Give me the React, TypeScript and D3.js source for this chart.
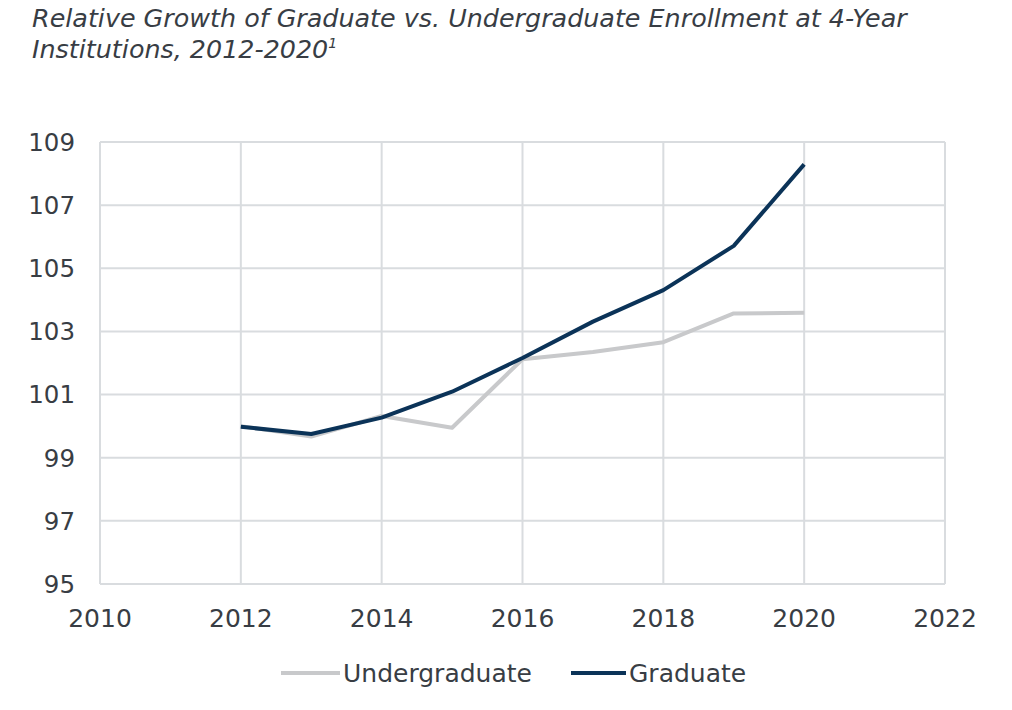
import * as d3 from 'd3'

const years = [2012, 2013, 2014, 2015, 2016, 2017, 2018, 2019, 2020]
const undergraduate = [100.0, 99.67, 100.32, 99.95, 102.12, 102.35, 102.66, 103.57, 103.59]
const graduate = [99.98, 99.75, 100.27, 101.09, 102.16, 103.31, 104.31, 105.71, 108.29]
const xTicks = [2010, 2012, 2014, 2016, 2018, 2020, 2022]
const yTicks = [95, 97, 99, 101, 103, 105, 107, 109]

const W = 1012
const H = 710
const textColor = '#383d44'
const gridColor = '#d9dcdf'
const font = 'Verdana, "DejaVu Sans", sans-serif'

export default function App() {
  const x = d3.scaleLinear().domain([2010, 2022]).range([100, 945])
  const y = d3.scaleLinear().domain([95, 109]).range([584, 142])

  const line = d3
    .line<number>()
    .x((_, i) => x(years[i]))
    .y(d => y(d))

  const series = [
    { name: 'Undergraduate', values: undergraduate, color: '#c8c9cb' },
    { name: 'Graduate', values: graduate, color: '#0b3358' },
  ]

  return (
    <svg
      width={W}
      height={H}
      style={{ position: 'absolute', left: 0, top: 0, background: '#fff' }}
      fontFamily={font}
    >
      <rect width={W} height={H} fill="#fff" />
      {/* 제목 */}
      <text x={32} y={27} fontSize={25.4} fontStyle="italic" fill={textColor}>
        Relative Growth of Graduate vs. Undergraduate Enrollment at 4-Year
      </text>
      <text x={32} y={58} fontSize={25.4} fontStyle="italic" fill={textColor}>
        Institutions, 2012-2020
        <tspan fontSize={14} dy={-10}>1</tspan>
      </text>

      {/* 격자 */}
      {yTicks.map(t => (
        <line key={'gy' + t} x1={x(2010)} x2={x(2022)} y1={y(t)} y2={y(t)} stroke={gridColor} strokeWidth={2} />
      ))}
      {xTicks.map(t => (
        <line key={'gx' + t} x1={x(t)} x2={x(t)} y1={y(95)} y2={y(109)} stroke={gridColor} strokeWidth={2} />
      ))}

      {/* 축 레이블 */}
      {yTicks.map(t => (
        <text key={'ly' + t} x={75} y={y(t)} dy="0.36em" textAnchor="end" fontSize={24.5} fill={textColor}>
          {t}
        </text>
      ))}
      {xTicks.map(t => (
        <text key={'lx' + t} x={x(t)} y={627} textAnchor="middle" fontSize={25} fill={textColor}>
          {t}
        </text>
      ))}

      {/* 선 */}
      {series.map(s => (
        <path
          key={s.name}
          d={line(s.values) || ''}
          fill="none"
          stroke={s.color}
          strokeWidth={4}
          strokeLinejoin="round"
        />
      ))}

      {/* 범례 */}
      <line x1={281} x2={340} y1={673} y2={673} stroke={series[0].color} strokeWidth={4} />
      <text x={343} y={673} dy="0.36em" fontSize={25} fill={textColor}>
        Undergraduate
      </text>
      <line x1={571} x2={626} y1={673} y2={673} stroke={series[1].color} strokeWidth={4} />
      <text x={629} y={673} dy="0.36em" fontSize={25} fill={textColor}>
        Graduate
      </text>
    </svg>
  )
}
